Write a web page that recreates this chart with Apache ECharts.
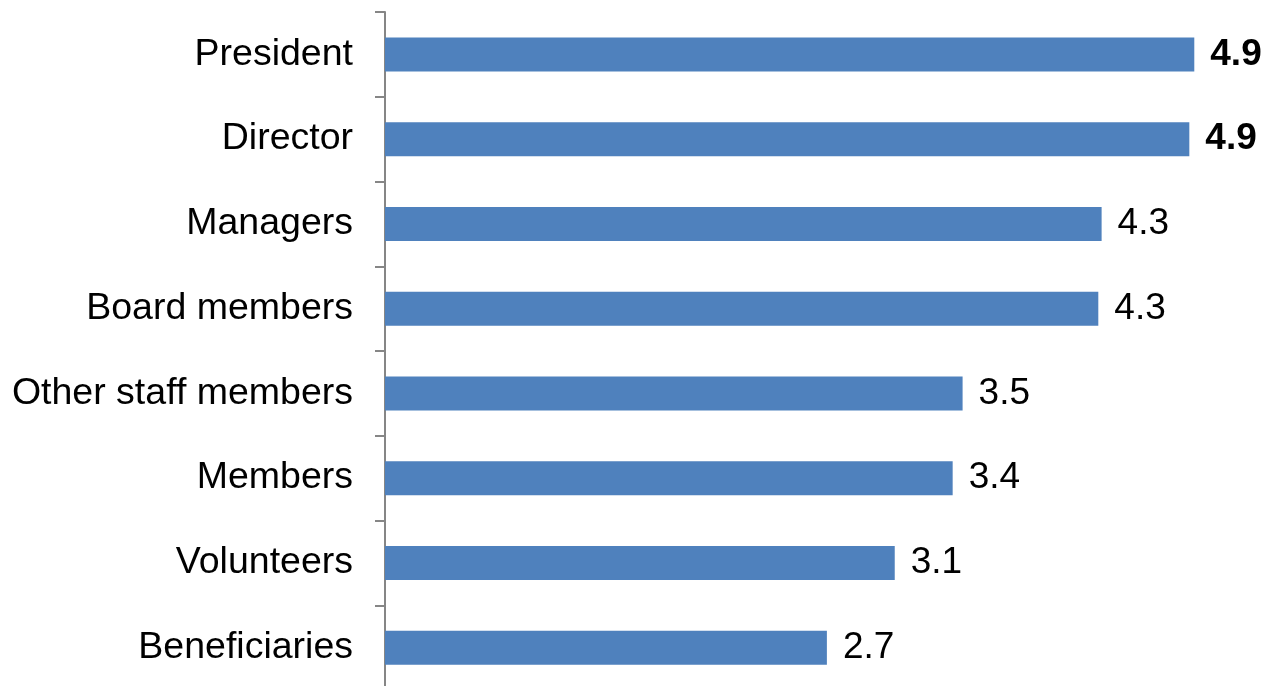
<!DOCTYPE html>
<html>
<head>
<meta charset="utf-8">
<script src="https://cdn.jsdelivr.net/npm/echarts@6/dist/echarts.min.js"></script>
<style>
  html, body { margin: 0; padding: 0; background: #fff; overflow: hidden; }
  #main { width: 1264px; height: 700px; }
</style>
</head>
<body>
<div id="main"></div>
<script>
var categories = ['President', 'Director', 'Managers', 'Board members', 'Other staff members', 'Members', 'Volunteers', 'Beneficiaries'];
var scores = [4.89, 4.86, 4.33, 4.31, 3.49, 3.43, 3.08, 2.67];
var boldLabels = ['President', 'Director'];

var myChart = echarts.init(document.getElementById('main'));
var option = {
    animation: false,
    grid: {
        left: 385,
        right: 51.5,
        top: 12,
        bottom: 10,
        containLabel: false
    },
    xAxis: {
        type: 'value',
        min: 0,
        max: 5,
        show: false
    },
    yAxis: {
        type: 'category',
        inverse: true,
        data: categories,
        axisLine: {
            show: true,
            lineStyle: { color: '#868686', width: 2 }
        },
        axisTick: {
            show: true,
            length: 10,
            lineStyle: { color: '#868686', width: 2 }
        },
        axisLabel: {
            margin: 32,
            color: '#000',
            fontFamily: 'Liberation Sans, Arial, sans-serif',
            fontSize: 37.5
        }
    },
    series: [
        {
            type: 'bar',
            barWidth: 34,
            itemStyle: { color: '#4F81BD' },
            data: scores.map(function (v, i) {
                var bold = boldLabels.indexOf(categories[i]) >= 0;
                return {
                    value: v,
                    label: {
                        fontWeight: bold ? 'bold' : 'normal'
                    }
                };
            }),
            label: {
                show: true,
                position: 'right',
                distance: 16,
                color: '#000',
                fontFamily: 'Liberation Sans, Arial, sans-serif',
                fontSize: 37,
                formatter: function (p) { return p.value.toFixed(1); }
            }
        }
    ]
};
myChart.setOption(option);
</script>
</body>
</html>
